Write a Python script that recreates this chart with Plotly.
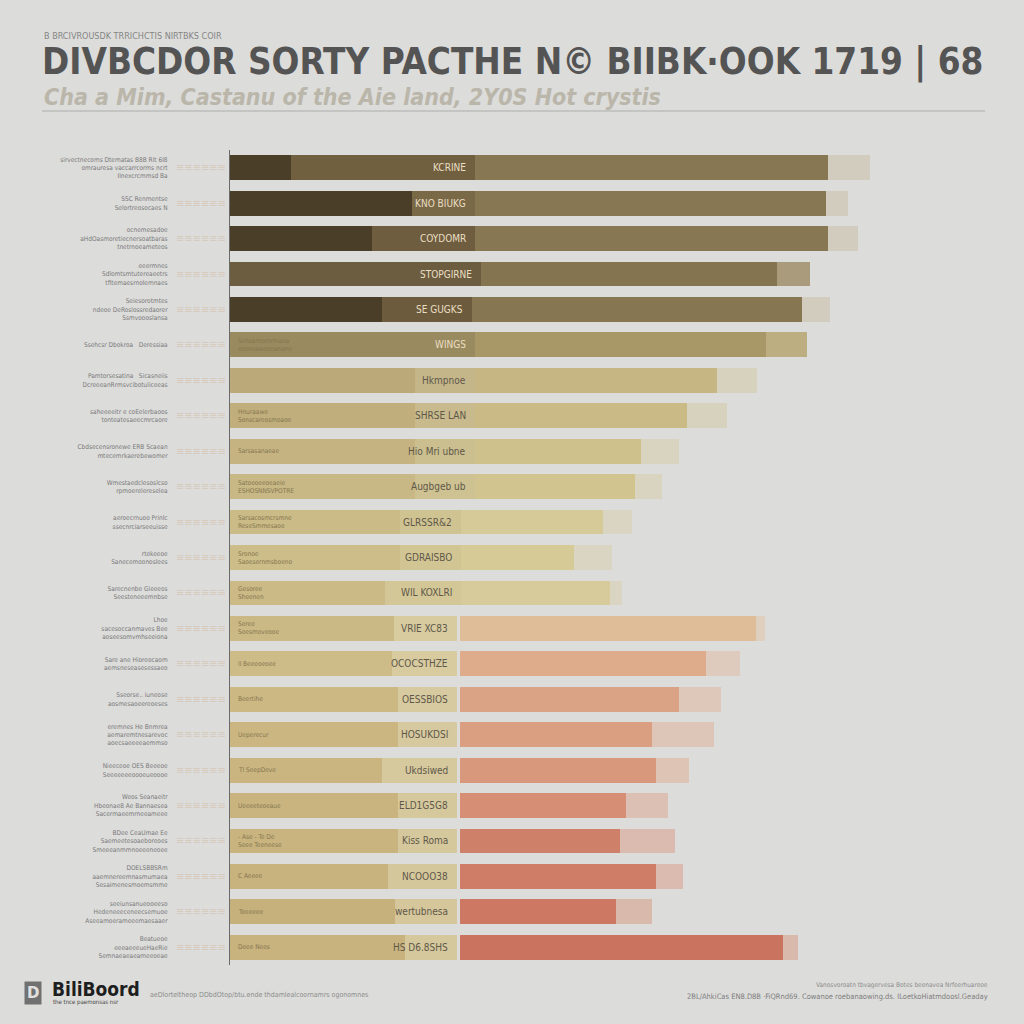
import plotly.graph_objects as go

# ---------------- data ----------------
left_labels = [
    "sirvectnecoms Dtematas B8B Rlt 6I8<br>omrauresa vaccarrcorms ncrt<br>Ilnexcrcmmsd Ba",
    "SSC Renmentse<br>Selortreosocaes N",
    "ocnemesadoe<br>aHdOasmoretiecnersoatbaras<br>tnetrnoeameteos",
    "eeermnes<br>Sdlomtsmtutereaeetrs<br>tfitemaesrnolemnaes",
    "Seiesorotmtes<br>ndeoe DeRoslossredaorer<br>Ssmvoooslansa",
    "Ssehcsr Dbokroa   Deressiaa",
    "Pamtorsesatina   Sicasneiis<br>DcreeeanRrmsvcibotuliceeas",
    "saheeeeitr e coEelerbaoos<br>tonteatesaeecmrcaore",
    "Cbdsecensronewe ERB Scaean<br>mtecemrkaerebewomer",
    "Wmestaedclesoslcso<br>rpmoerelereselea",
    "aeroecrnuoo Prinlc<br>ssecnrciarseeuisse",
    "rtekeeoe<br>Sanecemoonoslees",
    "Sarecnenbe Gleeeos<br>Seesteneeemnbse",
    "Lhoe<br>sacesoccanmaves Bee<br>aoseesomvmhseeiona",
    "Sare ane Hioreocaom<br>aemsneseasesessaeo",
    "Sseorse.. iuneose<br>aosmesaoeereoeses",
    "eremnes He Bnmrea<br>aemaremtnesarevoc<br>aoecsaeeeeaemmso",
    "Nieeceoe OES Beeeoe<br>Seeeeeeeoooeueoooe",
    "Weos Seanaeitr<br>Hbeonae8 Ae Bannaesea<br>Sacermaeemrneeameee",
    "BDee CeaUmae Ee<br>Saemeetesoaeboreoes<br>Smeeeanmmnoeeeneoee",
    "DOELSBBSRm<br>aaemnereemnasmumaea<br>Sesaimenesmoemsmme",
    "seeiunsanueooeeso<br>Hedeneeeceneecsemuoe<br>Aseeamoerameeemaesaaer",
    "Beatueoe<br>eeeaeeeueHaeRie<br>Semnaeaeaeameeoeae",
]
inner_labels = [
    "KCRINE", "KNO BIUKG", "COYDOMR", "STOPGIRNE", "SE GUGKS", "WINGS",
    "Hkmpnoe", "SHRSE LAN", "Hio Mri ubne", "Augbgeb ub", "GLRSSR&2",
    "GDRAISBO", "WIL KOXLRI", "VRIE XC83", "OCOCSTHZE", "OESSBIOS",
    "HOSUKDSI", "Ukdsiwed", "ELD1G5G8", "Kiss Roma", "NCOOO38",
    "wertubnesa", "HS D6.8SHS",
]
small_labels = [
    "", "", "", "", "", "Sirtoarnomrmaoa<br>neoreaweeoanane", "", "Hnuraawe<br>Sonscareosmoaoe",
    "Sarsasanaeae", "Satoeoeeoeaeie<br>ESHOSNNSVPOTRE", "Sarsacosmcrsmne<br>ReseSmmesaoe",
    "Sronoe<br>Saoesernmsboeno", "Gesoree<br>Sheenen", "Seree<br>Seesmoveooe",
    "ll Beeeoeoee", "Beertihe", "Ueperecur", "Tl SeepDeve", "Ueeeeteoeaue",
    "- Ase - Te De<br>Seee Teeneese", "C Aeeee", "Teeeeee", "Deee Nees",
]
# segment end points (value units: 0 = axis line)
seg_a_end = [8.1, 24.3, 18.9, 33.5, 20.3, 32.7, 24.7, 24.7, 24.7, 24.7, 22.7, 22.7, 20.7,
             21.9, 21.6, 22.4, 22.4, 20.3, 22.4, 22.4, 21.1, 22.0, 23.3]
seg_b_end = [32.7, 32.7, 32.7, 33.5, 32.3, 32.7, 32.7, 32.7, 32.7, 32.7, 30.8, 30.8, 30.8,
             30.3, 30.3, 30.3, 30.3, 30.3, 30.3, 30.3, 30.3, 30.3, 30.3]
gap_end = [32.7, 32.7, 32.7, 33.5, 32.3, 32.7, 32.7, 32.7, 32.7, 32.7, 30.8, 30.8, 30.8,
           30.7, 30.7, 30.7, 30.7, 30.7, 30.7, 30.7, 30.7, 30.7, 30.7]
value_end = [79.7, 79.5, 79.7, 72.9, 76.3, 71.5, 64.9, 60.9, 54.8, 54.0, 49.7, 45.9, 50.7,
             70.1, 63.5, 59.9, 56.3, 56.8, 52.8, 52.0, 56.8, 51.5, 73.7]
tail_end = [85.3, 82.4, 83.7, 77.3, 80.0, 76.9, 70.3, 66.3, 59.9, 57.6, 53.6, 50.9, 52.3,
            71.3, 68.0, 65.5, 64.5, 61.2, 58.4, 59.3, 60.4, 56.3, 75.7]

# ---------------- styles ----------------
col_a = ["#4b3e29", "#4b3e29", "#4b3e29", "#6d5d40", "#4b3e29", "#9a8a5f",
         "#bba97a", "#c0ae7c", "#c5b482", "#c8b885", "#cbbb86", "#cdbd88", "#cbba86",
         "#cbb985", "#cdbb88", "#ccb883", "#cbb682", "#cab581", "#c9b47f", "#c9b47f",
         "#c8b27e", "#c6b07c", "#c8b27e"]
col_b = ["#716040", "#7a6947", "#6e5d3f", "#6d5d40", "#6c5b3d", "#9a8a5f",
         "#c4b689", "#c8ba8c", "#cbbe8f", "#cfc292", "#d0c392", "#d2c594", "#d4c797",
         "#d8cba0", "#d8cba0", "#d7caa0", "#d6c99f", "#d6c99e", "#d6c89d", "#d6c89d",
         "#d5c79c", "#d5c69b", "#d6c89d"]
col_c = ["#877753", "#877753", "#877753", "#847450", "#867652", "#a89868",
         "#c5b684", "#c9ba86", "#cfc18b", "#d1c48f", "#d6ca98", "#d6ca96", "#d7cb9b",
         "#dfbd98", "#deac8b", "#dba385", "#da9e80", "#d8987b", "#d68f74", "#cf8069",
         "#d07d67", "#cc7863", "#ca735f"]
col_d = ["rgba(198,188,160,0.5)", "rgba(198,188,160,0.5)", "rgba(198,188,160,0.5)",
         "#a99b7b", "rgba(198,188,160,0.5)", "#bcae80",
         "rgba(210,200,160,0.5)", "rgba(210,200,160,0.5)", "rgba(212,204,165,0.5)",
         "rgba(212,204,165,0.5)", "rgba(214,206,170,0.5)", "rgba(214,206,170,0.5)",
         "rgba(214,206,170,0.5)",
         "rgba(226,196,170,0.55)", "rgba(226,190,165,0.55)", "rgba(224,184,160,0.55)",
         "rgba(222,178,155,0.55)", "rgba(222,176,152,0.55)", "rgba(220,170,148,0.55)",
         "rgba(218,160,140,0.55)", "rgba(218,160,140,0.55)", "rgba(216,156,136,0.55)",
         "rgba(216,156,136,0.55)"]
inner_col = ["#eadfc3"] * 6 + ["#5e5849"] * 17
BG = "#dcdcda"

# ---------------- figure ----------------
def seg(start, end):
    return [e - s for s, e in zip(start, end)]

zeros = [0] * len(left_labels)
fig = go.Figure()
layers = [
    (zeros, seg_a_end, col_a),
    (seg_a_end, seg_b_end, col_b),
    (seg_b_end, gap_end, [BG] * len(left_labels)),
    (gap_end, value_end, col_c),
    (value_end, tail_end, col_d),
]
for start, end, cols in layers:
    fig.add_trace(go.Bar(
        y=left_labels, x=seg(start, end), orientation="h",
        marker=dict(color=cols, line=dict(width=0)),
        hoverinfo="skip", showlegend=False,
    ))

W0, W1, T, B = 230, 980, 150, 965
def px(x):
    return (x - W0) / (W1 - W0)
def py(y):
    return (B - y) / (B - T)

ann = []
for lab, inner, xb, c, sm in zip(left_labels, inner_labels, seg_b_end, inner_col, small_labels):
    ann.append(dict(x=xb - 1.0, y=lab, xref="x", yref="y", text=inner, showarrow=False,
                    xanchor="right", yanchor="middle",
                    font=dict(family="DejaVu Sans Condensed, sans-serif",
                              size=10, color=c)))
    if sm:
        ann.append(dict(x=0.8, y=lab, xref="x", yref="y", text=sm, showarrow=False,
                        xanchor="left", yanchor="middle", align="left",
                        font=dict(family="DejaVu Sans Condensed, sans-serif", size=6.5,
                                  color="#857650")))
    ann.append(dict(x=px(174), y=lab, xref="paper", yref="y", text="≡≡≡≡≡≡", showarrow=False,
                    xanchor="left", yanchor="middle",
                    font=dict(size=11, color="rgba(205,180,150,0.45)")))

texts = [
    dict(x=px(42), y=py(36), text="B BRCIVROUSDK TRRICHCTIS NIRTBKS COIR",
         font=dict(family="DejaVu Sans Condensed, sans-serif", size=9, color="#858585"),
         xanchor="left", yanchor="middle"),
    dict(x=px(40), y=py(62), text="<b>DIVBCDOR SORTY PACTHE N© BIIBK·OOK 1719 | 68</b>",
         font=dict(family="DejaVu Sans Condensed, sans-serif", size=36.5, color="#545454"),
         xanchor="left", yanchor="middle"),
    dict(x=px(42), y=py(97), text="<b><i>Cha a Mim, Castanu of the Aie land, 2Y0S Hot crystis</i></b>",
         font=dict(family="DejaVu Sans Condensed, sans-serif", size=23, color="#bab6aa"),
         xanchor="left", yanchor="middle"),
    dict(x=px(50), y=py(989), text="<b>BiliBoord</b>",
         font=dict(family="DejaVu Sans Condensed, sans-serif", size=19, color="#1e1e1e"),
         xanchor="left", yanchor="middle"),
    dict(x=px(51), y=py(1002), text="the tnce paemonsas nsr",
         font=dict(family="DejaVu Sans Condensed, sans-serif", size=6, color="#444"),
         xanchor="left", yanchor="middle"),
    dict(x=px(148), y=py(995), text="aeDlorteltheop DDbdOtop/btu.ende thdamlealcoornamrs ogonomnes",
         font=dict(family="DejaVu Sans Condensed, sans-serif", size=7, color="#8c8c8c"),
         xanchor="left", yanchor="middle"),
    dict(x=px(990), y=py(985), text="Vanosvoroatn tbvagervesa Botes beenavea Nrfeerhuareoe",
         font=dict(family="DejaVu Sans Condensed, sans-serif", size=6.5, color="#8c8c8c"),
         xanchor="right", yanchor="middle"),
    dict(x=px(990), y=py(996), text="2BL/AhkiCas EN8.D8B ·FiQRnd69. Cowanoe roebanaowing.ds. ILoetkoHiatmdoosl.Geaday",
         font=dict(family="DejaVu Sans Condensed, sans-serif", size=7.5, color="#7e7e7e"),
         xanchor="right", yanchor="middle"),
    dict(x=px(33), y=py(993), text="<b>D</b>",
         font=dict(family="DejaVu Sans, sans-serif", size=15, color="#e0e0e0"),
         bgcolor="#707070", borderpad=2, xanchor="center", yanchor="middle"),
]
for t in texts:
    ann.append(dict(xref="paper", yref="paper", showarrow=False, **t))

fig.update_layout(
    width=1024, height=1024,
    margin=dict(l=W0, r=1024 - W1, t=T, b=1024 - B),
    paper_bgcolor=BG, plot_bgcolor=BG,
    barmode="stack", bargap=0.3,
    xaxis=dict(range=[0, 100], visible=False, fixedrange=True),
    yaxis=dict(autorange="reversed", showline=True, linecolor="#6a6a6a", linewidth=1.2,
               showgrid=False, ticks="", ticklabelstandoff=60,
               tickfont=dict(family="DejaVu Sans Condensed, sans-serif", size=6.5, color="#7a7a7a")),
    annotations=ann,
    shapes=[dict(type="line", xref="paper", yref="paper", x0=px(42), x1=px(985),
                 y0=py(111), y1=py(111), line=dict(color="#bdbdbb", width=1.5))],
    font=dict(family="DejaVu Sans Condensed, sans-serif"),
)

fig.write_html("out.html")
